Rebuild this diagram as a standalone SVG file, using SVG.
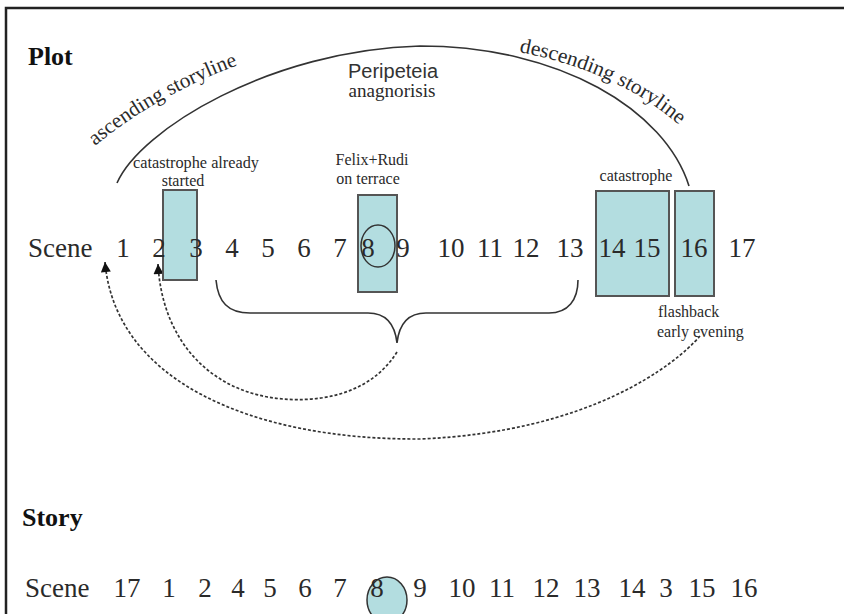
<svg xmlns="http://www.w3.org/2000/svg" width="844" height="614" viewBox="0 0 844 614">
  <style>
    .serif { font-family: "Liberation Serif", "Times New Roman", serif; fill: #2a2a2a; }
    .sans { font-family: "Liberation Sans", Arial, sans-serif; fill: #333; }
    .title { font-size: 26px; font-weight: bold; fill: #111; }
    .num { font-size: 27px; text-anchor: middle; }
    .lbl { font-size: 16px; }
    .arcTxt { font-size: 21px; }
    .box { fill: #b3dde0; stroke: #555; stroke-width: 2; }
    .line { fill: none; stroke: #333; stroke-width: 1.6; }
    .dash { fill: none; stroke: #333; stroke-width: 1.7; stroke-dasharray: 3 2; }
  </style>
  <defs>
    <marker id="arrowHead" viewBox="0 0 10 10" refX="10" refY="5" markerWidth="12" markerHeight="10" markerUnits="userSpaceOnUse" orient="auto">
      <path d="M0,0 L10,5 L0,10 Z" fill="#111"/>
    </marker>
    <path id="ascPath" d="M95,146 Q160,92 252,60"/>
    <path id="descPath" d="M519,52 Q622,72 686,131"/>
  </defs>

  <rect width="844" height="614" fill="#fff"/>

  <!-- frame -->
  <g id="frame" stroke="#222" stroke-width="2.5" fill="none">
    <path d="M6,614 L6,8 L844,8"/>
  </g>

  <!-- headings -->
  <g id="plot-title"><text class="serif title" x="28" y="65">Plot</text></g>
  <g id="story-title"><text class="serif title" x="22" y="526">Story</text></g>

  <!-- connectors: storyline arc, brace and dashed flow -->
  <g id="connectors">
    <path class="line" d="M117,183 C140,130 270,50 420,46 C560,46 665,110 689,186"/>
    <path class="line" d="M216,280 C218,302 228,313 250,313 L368,313 C386,313 395,325 397,343 C399,325 408,313 426,313 L549,313 C568,313 578,300 578,280"/>
    <path class="dash" d="M397,352 C370,395 320,402 283,399 C210,393 162,340 158,264" marker-end="url(#arrowHead)"/>
    <path class="dash" d="M700,336 C675,365 590,432 420,439 C250,440 115,380 105,262" marker-end="url(#arrowHead)"/>
  </g>

  <!-- arc labels -->
  <g id="ascending-label">
    <text class="serif arcTxt"><textPath href="#ascPath" textLength="165" lengthAdjust="spacingAndGlyphs">ascending storyline</textPath></text>
  </g>
  <g id="descending-label">
    <text class="serif arcTxt"><textPath href="#descPath" textLength="178" lengthAdjust="spacingAndGlyphs">descending storyline</textPath></text>
  </g>
  <g id="peripeteia">
    <text class="sans" font-size="20" x="393" y="78" text-anchor="middle">Peripeteia</text>
    <text class="serif" font-size="18" x="392" y="97" text-anchor="middle" textLength="87" lengthAdjust="spacingAndGlyphs">anagnorisis</text>
  </g>

  <!-- highlighted scene blocks -->
  <g id="block-started">
    <rect class="box" x="163" y="190" width="34" height="90"/>
    <text class="serif lbl" x="196" y="168" text-anchor="middle" textLength="126" lengthAdjust="spacingAndGlyphs">catastrophe already</text>
    <text class="serif lbl" x="183" y="186" text-anchor="middle">started</text>
  </g>
  <g id="block-terrace">
    <rect class="box" x="358" y="195" width="39" height="97"/>
    <ellipse cx="378" cy="246" rx="17" ry="21" fill="none" stroke="#333" stroke-width="1.5"/>
    <text class="serif lbl" x="372" y="165" text-anchor="middle">Felix+Rudi</text>
    <text class="serif lbl" x="368" y="184" text-anchor="middle">on terrace</text>
  </g>
  <g id="block-catastrophe">
    <rect class="box" x="596" y="191" width="73" height="105"/>
    <text class="serif lbl" x="636" y="181" text-anchor="middle">catastrophe</text>
  </g>
  <g id="block-flashback">
    <rect class="box" x="675" y="191" width="39" height="105"/>
    <text class="serif lbl" x="658" y="317">flashback</text>
    <text class="serif lbl" x="657" y="337">early evening</text>
  </g>

  <!-- plot order -->
  <g id="plot-scenes">
    <text class="serif" font-size="27" x="28" y="257">Scene</text>
    <text class="serif num" x="123" y="257">1</text>
    <text class="serif num" x="159" y="257">2</text>
    <text class="serif num" x="196" y="257">3</text>
    <text class="serif num" x="232" y="257">4</text>
    <text class="serif num" x="268" y="257">5</text>
    <text class="serif num" x="304" y="257">6</text>
    <text class="serif num" x="340" y="257">7</text>
    <text class="serif num" x="368" y="257">8</text>
    <text class="serif num" x="403" y="257">9</text>
    <text class="serif num" x="451" y="257">10</text>
    <text class="serif num" x="490" y="257">11</text>
    <text class="serif num" x="526" y="257">12</text>
    <text class="serif num" x="570" y="257">13</text>
    <text class="serif num" x="612" y="257">14</text>
    <text class="serif num" x="647" y="257">15</text>
    <text class="serif num" x="694" y="257">16</text>
    <text class="serif num" x="742" y="257">17</text>
  </g>

  <!-- story order -->
  <g id="story-scenes">
    <ellipse cx="387" cy="600" rx="20" ry="23" fill="#b3dde0" stroke="#333" stroke-width="1.5"/>
    <text class="serif" font-size="27" x="25" y="597">Scene</text>
    <text class="serif num" x="127" y="597">17</text>
    <text class="serif num" x="169" y="597">1</text>
    <text class="serif num" x="205" y="597">2</text>
    <text class="serif num" x="238" y="597">4</text>
    <text class="serif num" x="270" y="597">5</text>
    <text class="serif num" x="305" y="597">6</text>
    <text class="serif num" x="340" y="597">7</text>
    <text class="serif num" x="377" y="597">8</text>
    <text class="serif num" x="420" y="597">9</text>
    <text class="serif num" x="462" y="597">10</text>
    <text class="serif num" x="502" y="597">11</text>
    <text class="serif num" x="546" y="597">12</text>
    <text class="serif num" x="587" y="597">13</text>
    <text class="serif num" x="632" y="597">14</text>
    <text class="serif num" x="666" y="597">3</text>
    <text class="serif num" x="702" y="597">15</text>
    <text class="serif num" x="744" y="597">16</text>
  </g>
</svg>
